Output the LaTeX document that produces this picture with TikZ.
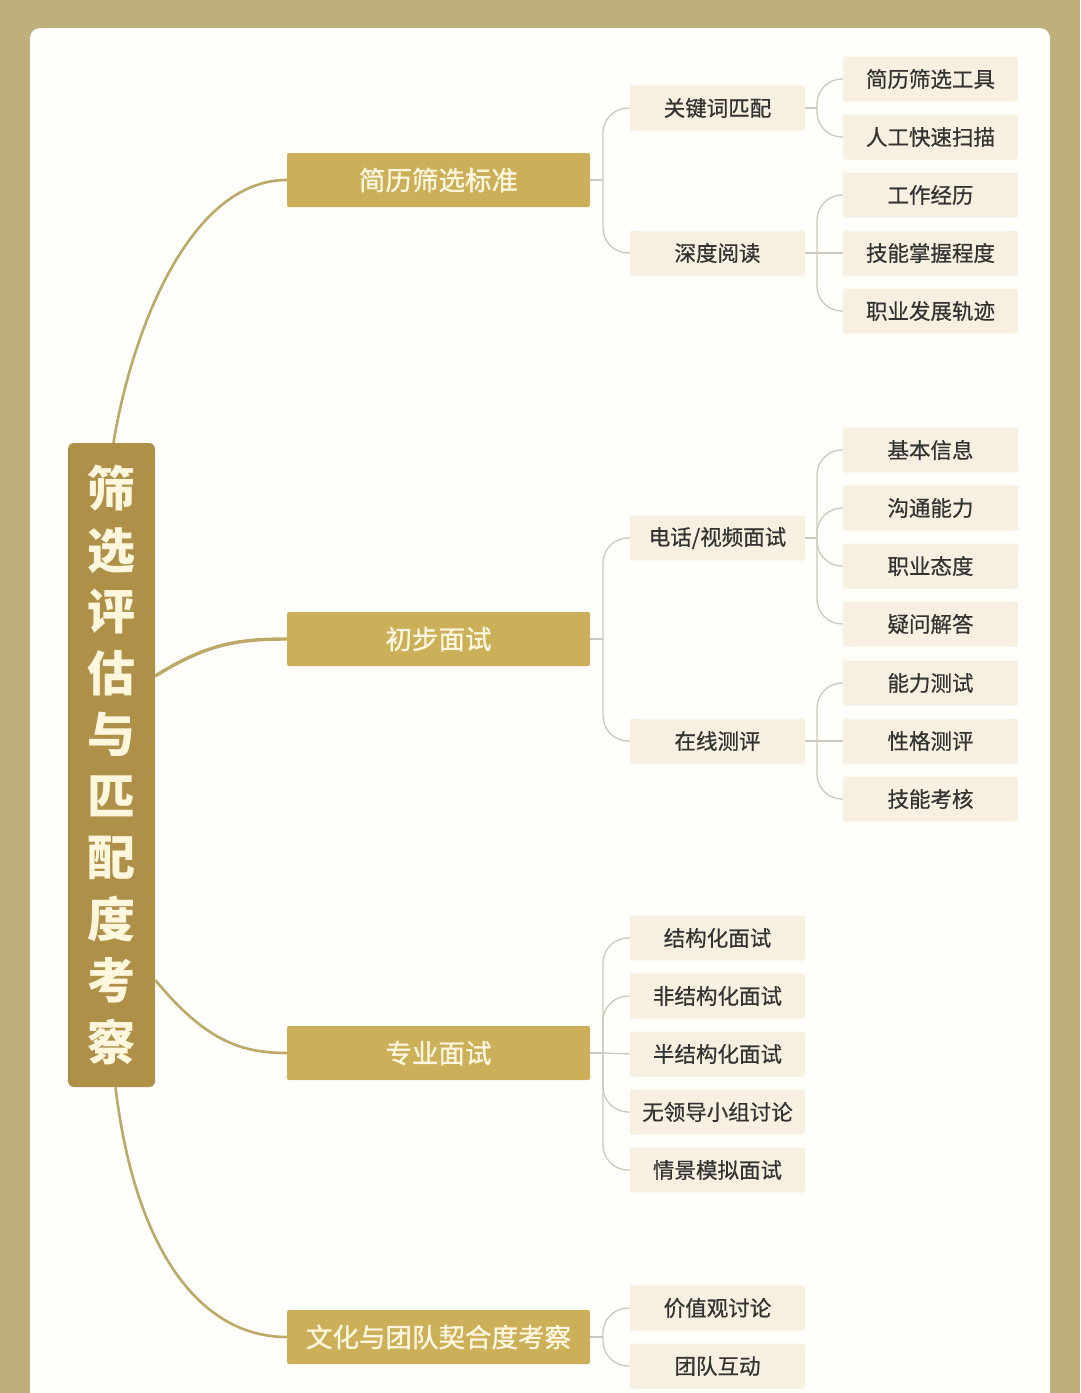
\documentclass[tikz,border=0pt]{standalone}
\usepackage{fontspec}
\newfontfamily\cjk{Noto Sans CJK SC}
\newfontfamily\cjkm[FakeBold=0.6]{Noto Sans CJK SC}
\newfontfamily\cjkh[FakeBold=1.2]{Noto Sans CJK SC}
\usetikzlibrary{calc}
\definecolor{frame}{HTML}{BFAF7A}
\definecolor{paper}{HTML}{FFFEFA}
\definecolor{rootc}{HTML}{AF9048}
\definecolor{lone}{HTML}{CCAF59}
\definecolor{ltwo}{HTML}{F7F0E1}
\definecolor{ink}{HTML}{333333}
\definecolor{cream}{HTML}{FFF6DE}
\definecolor{trunk}{HTML}{BCA968}
\definecolor{twig}{HTML}{CCC8BC}
\begin{document}
\begin{tikzpicture}[x=1pt,y=-1pt,
 rootbox/.style={fill=rootc, rounded corners=6pt, minimum width=87pt, minimum height=644pt, inner sep=0pt, text=cream, align=center, font=\cjk\bfseries\fontsize{48}{61.5}\selectfont},
 mainbox/.style={fill=lone, rounded corners=2pt, minimum width=303pt, minimum height=54pt, inner sep=0pt, text=cream, font=\cjkh\fontsize{26.5}{30}\selectfont},
 subbox/.style={fill=ltwo, rounded corners=2pt, minimum width=175pt, minimum height=45pt, inner sep=0pt, text=ink, font=\cjkm\fontsize{21.5}{25}\selectfont},
 trunkline/.style={draw=trunk, line width=2.6pt},
 twigline/.style={draw=twig, line width=1.3pt},
 bracket/.style={rounded corners=25pt, to path={-- (\tikztostart |- \tikztotarget) -- (\tikztotarget)}}
]
\useasboundingbox (0,0) rectangle (1080,1393);
\fill[frame] (0,0) rectangle (1080,1393);
\fill[paper, rounded corners=10pt] (30,28) rectangle (1050,1430);

% root
\node[rootbox] (root) at (111.5,765) {筛\\选\\评\\估\\与\\匹\\配\\度\\考\\察};

% level 1
\node[mainbox] (m1) at (438.5,180) {简历筛选标准};
\node[mainbox] (m2) at (438.5,639) {初步面试};
\node[mainbox] (m3) at (438.5,1053) {专业面试};
\node[mainbox] (m4) at (438.5,1337) {文化与团队契合度考察};

% level 2
\node[subbox] (a1) at (717.5,108) {关键词匹配};
\node[subbox] (a2) at (717.5,253) {深度阅读};
\node[subbox] (b1) at (717.5,538) {电话/视频面试};
\node[subbox] (b2) at (717.5,741) {在线测评};
\node[subbox] (c1) at (717.5,938) {结构化面试};
\node[subbox] (c2) at (717.5,996) {非结构化面试};
\node[subbox] (c3) at (717.5,1054) {半结构化面试};
\node[subbox] (c4) at (717.5,1112) {无领导小组讨论};
\node[subbox] (c5) at (717.5,1170) {情景模拟面试};
\node[subbox] (d1) at (717.5,1308) {价值观讨论};
\node[subbox] (d2) at (717.5,1366) {团队互动};

% level 3
\node[subbox] (a11) at (930.5,79) {简历筛选工具};
\node[subbox] (a12) at (930.5,137) {人工快速扫描};
\node[subbox] (a21) at (930.5,195) {工作经历};
\node[subbox] (a22) at (930.5,253) {技能掌握程度};
\node[subbox] (a23) at (930.5,311) {职业发展轨迹};
\node[subbox] (b11) at (930.5,450) {基本信息};
\node[subbox] (b12) at (930.5,508) {沟通能力};
\node[subbox] (b13) at (930.5,566) {职业态度};
\node[subbox] (b14) at (930.5,624) {疑问解答};
\node[subbox] (b21) at (930.5,683) {能力测试};
\node[subbox] (b22) at (930.5,741) {性格测评};
\node[subbox] (b23) at (930.5,799) {技能考核};

% junctions
\coordinate (ja) at (603,180);
\coordinate (jb) at (603,639);
\coordinate (jc) at (603,1053);
\coordinate (jd) at (603,1337);
\coordinate (ja1) at (817,108);
\coordinate (ja2) at (817,253);
\coordinate (jb1) at (817,538);
\coordinate (jb2) at (817,741);

% root connectors
\draw[trunkline] ([xshift=2pt]root.north) .. controls (132,330) and (190,180) .. (m1.west);
\draw[trunkline, line width=3.4pt] ([yshift=89pt]root.east) .. controls (205,645) and (235,639) .. (m2.west);
\draw[trunkline] ([yshift=-215pt]root.east) .. controls (205,1040) and (240,1053) .. (m3.west);
\draw[trunkline] ([xshift=4pt]root.south) .. controls (135,1250) and (200,1337) .. (m4.west);

% level 1 -> level 2
\draw[twigline] (m1.east) -- (ja);
\draw[twigline] (ja) to[bracket] (a1.west);
\draw[twigline] (ja) to[bracket] (a2.west);
\draw[twigline] (m2.east) -- (jb);
\draw[twigline] (jb) to[bracket] (b1.west);
\draw[twigline] (jb) to[bracket] (b2.west);
\draw[twigline] (m3.east) -- (jc);
\draw[twigline] (jc) to[bracket] (c1.west);
\draw[twigline] (jc) to[bracket] (c2.west);
\draw[twigline] (jc) -- (c3.west);
\draw[twigline] (jc) to[bracket] (c4.west);
\draw[twigline] (jc) to[bracket] (c5.west);
\draw[twigline] (m4.east) -- (jd);
\draw[twigline] (jd) to[bracket] (d1.west);
\draw[twigline] (jd) to[bracket] (d2.west);

% level 2 -> level 3
\draw[twigline] (a1.east) -- (ja1);
\draw[twigline] (ja1) to[bracket] (a11.west);
\draw[twigline] (ja1) to[bracket] (a12.west);
\draw[twigline] (a2.east) -- (ja2);
\draw[twigline] (ja2) to[bracket] (a21.west);
\draw[twigline] (ja2) -- (a22.west);
\draw[twigline] (ja2) to[bracket] (a23.west);
\draw[twigline] (b1.east) -- (jb1);
\draw[twigline] (jb1) to[bracket] (b11.west);
\draw[twigline] (jb1) to[bracket] (b12.west);
\draw[twigline] (jb1) to[bracket] (b13.west);
\draw[twigline] (jb1) to[bracket] (b14.west);
\draw[twigline] (b2.east) -- (jb2);
\draw[twigline] (jb2) to[bracket] (b21.west);
\draw[twigline] (jb2) -- (b22.west);
\draw[twigline] (jb2) to[bracket] (b23.west);
\end{tikzpicture}
\end{document}
